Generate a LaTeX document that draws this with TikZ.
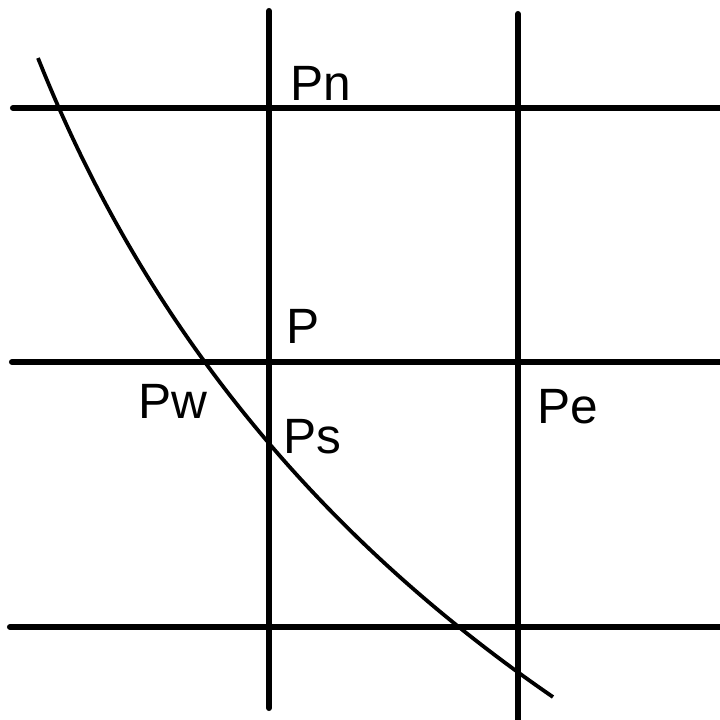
\documentclass[tikz,border=0pt]{standalone}
\usepackage{fontspec}
\setmainfont{Liberation Sans}
\usetikzlibrary{positioning}
\tikzset{
  rejilla/.style={black,line width=2.4pt,line cap=round},
  curva/.style={black,line width=1.5pt},
  etiqueta/.style={anchor=base west,inner sep=0pt,font=\fontsize{19.6}{23}\selectfont},
}
\begin{document}
\begin{tikzpicture}[x=0.01389cm,y=-0.01389cm]
  \useasboundingbox[fill=white] (0,0) rectangle (720,720);
  % lineas de la malla
  \draw[rejilla] (13,108) -- (720,108);
  \draw[rejilla] (12,362) -- (720,362);
  \draw[rejilla] (10,627) -- (720,627);
  \draw[rejilla] (269,11) -- (269,708);
  \draw[rejilla] (518,14) -- (518,720);
  % frontera
  \coordinate (ini) at (38,58);
  \coordinate (fin) at (553,697);
  \draw[curva] (ini) .. controls (149,337) and (329,543) .. (fin);
  % nodos
  \node[etiqueta] (pn) at (290,100) {Pn};
  \node[etiqueta] (p) at (286,343) {P};
  \node[etiqueta] (pw) at (138,418) {Pw};
  \node[etiqueta] (ps) at (283,453) {Ps};
  \node[etiqueta] (pe) at (537,423) {Pe};
\end{tikzpicture}
\end{document}
